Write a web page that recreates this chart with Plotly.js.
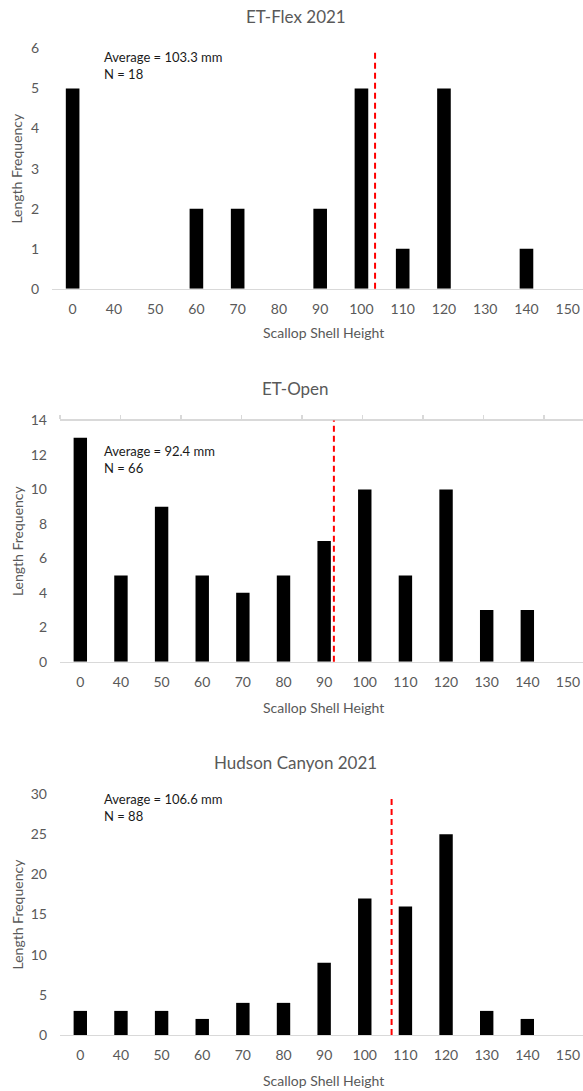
<!DOCTYPE html>
<html>
<head>
<meta charset="utf-8">
<script src="https://cdn.plot.ly/plotly-3.0.1.min.js"></script>
<style>
  html, body { margin: 0; padding: 0; background: #ffffff; }
  #chart { width: 583px; height: 1091px; }
</style>
</head>
<body>
<div id="chart"></div>
<script>
// Shell-height size classes (mm)
const sizeClasses = ["0", "40", "50", "60", "70", "80", "90", "100", "110", "120", "130", "140", "150"];

// Length-frequency counts per survey area
const etFlexCounts  = [5, 0, 0, 2, 2, 0, 2, 5, 1, 5, 0, 1, 0];
const etOpenCounts  = [13, 5, 9, 5, 4, 5, 7, 10, 5, 10, 3, 3, 0];
const hudsonCounts  = [3, 3, 3, 2, 4, 4, 9, 17, 16, 25, 3, 2, 0];

// Panel titles, mean shell heights and sample sizes
const panelTitles = ["ET-Flex 2021", "ET-Open", "Hudson Canyon 2021"];
const panelMeans  = [103.3, 92.4, 106.6];
const panelN      = [18, 66, 88];

const W = 583, H = 1091;
const FONT = "Lato, 'Open Sans', sans-serif";
const GREY = "#595959";
const AXIS_LINE = "#d9d9d9";

// Place a mean on the category axis by interpolating between class positions
function meanToIndex(mean) {
  const vals = sizeClasses.map(Number);
  for (let i = 0; i < vals.length - 1; i++) {
    if (mean >= vals[i] && mean < vals[i + 1]) {
      return i + (mean - vals[i]) / (vals[i + 1] - vals[i]);
    }
  }
  return vals.length - 1;
}

// Pixel geometry of each panel (left edge, zero line, axis top, text rows)
const panels = [
  { left: 52, bottom: 288.7, top: 48.5,  ymax: 6,  dtick: 1, xr: [-0.5, 12.37],
    titleY: 16, noteY: 56, xTitleY: 333, lineTop: 0.994 },
  { left: 60, bottom: 661.7, top: 420.5, ymax: 14, dtick: 2, xr: [-0.5, 12.37],
    titleY: 388, noteY: 450, xTitleY: 707, lineTop: 1.0 },
  { left: 60, bottom: 1035,  top: 794,   ymax: 30, dtick: 5, xr: [-0.5, 12.37],
    titleY: 762, noteY: 798, xTitleY: 1080, lineTop: 0.988 }
];
const seriesList = [etFlexCounts, etOpenCounts, hudsonCounts];

const traces = [];
const layout = {
  width: W, height: H,
  margin: { l: 0, r: 0, t: 0, b: 0 },
  paper_bgcolor: "#ffffff",
  plot_bgcolor: "rgba(0,0,0,0)",
  showlegend: false,
  font: { family: FONT, color: GREY, size: 14 },
  annotations: [],
  shapes: []
};

panels.forEach((p, k) => {
  const n = k + 1;
  const xa = n === 1 ? "x" : "x" + n;
  const ya = n === 1 ? "y" : "y" + n;
  const xKey = n === 1 ? "xaxis" : "xaxis" + n;
  const yKey = n === 1 ? "yaxis" : "yaxis" + n;

  traces.push({
    type: "bar",
    x: sizeClasses,
    y: seriesList[k],
    xaxis: xa, yaxis: ya,
    marker: { color: "#000000", line: { width: 0 } },
    width: 0.33,
    hoverinfo: "x+y"
  });

  layout[xKey] = {
    type: "category",
    domain: [p.left / W, 1],
    anchor: ya,
    range: p.xr,
    showgrid: false,
    zeroline: false,
    showline: true,
    linecolor: AXIS_LINE,
    linewidth: 1.3,
    ticks: "",
    ticklabelstandoff: 7,
    tickfont: { family: FONT, color: GREY, size: 14 },
    fixedrange: true
  };
  layout[yKey] = {
    domain: [1 - p.bottom / H, 1 - p.top / H],
    anchor: xa,
    range: [0, p.ymax],
    dtick: p.dtick,
    tick0: 0,
    showgrid: false,
    zeroline: false,
    showline: false,
    ticks: "",
    ticklabelstandoff: 12,
    tickfont: { family: FONT, color: GREY, size: 14 },
    fixedrange: true
  };

  // Panel title
  layout.annotations.push({
    xref: "paper", yref: "paper",
    x: 295.5 / W, y: 1 - p.titleY / H,
    xanchor: "center", yanchor: "middle",
    text: panelTitles[k], showarrow: false,
    font: { family: FONT, size: 17, color: GREY }
  });
  // Y axis title
  layout.annotations.push({
    xref: "paper", yref: "paper",
    x: 17 / W, y: 1 - ((p.top + p.bottom) / 2) / H,
    xanchor: "center", yanchor: "middle", textangle: -90,
    text: "Length Frequency", showarrow: false,
    font: { family: FONT, size: 14, color: GREY }
  });
  // X axis title
  layout.annotations.push({
    xref: "paper", yref: "paper",
    x: 323.5 / W, y: 1 - p.xTitleY / H,
    xanchor: "center", yanchor: "middle",
    text: "Scallop Shell Height", showarrow: false,
    font: { family: FONT, size: 14, color: GREY }
  });
  // Mean and sample size
  layout.annotations.push({
    xref: "paper", yref: "paper",
    x: 102 / W, y: 1 - (p.noteY - 9) / H,
    xanchor: "left", yanchor: "top", align: "left",
    text: "Average = " + panelMeans[k].toFixed(1) + " mm<br>N = " + panelN[k],
    showarrow: false,
    font: { family: FONT, size: 13, color: "#1a1a1a" }
  });
  // Dashed mean line
  const mx = meanToIndex(panelMeans[k]);
  layout.shapes.push({
    type: "line", xref: xa, yref: ya + " domain",
    x0: mx, x1: mx, y0: 0, y1: p.lineTop,
    line: { color: "#ff0000", width: 2, dash: "6px,4px" }
  });
});

// Secondary top axis on the middle panel
layout.xaxis4 = {
  overlaying: "x2",
  side: "top",
  anchor: "y2",
  range: [0, 523 / 60.5],
  dtick: 1,
  showgrid: false,
  zeroline: false,
  showline: true,
  linecolor: AXIS_LINE,
  linewidth: 1.3,
  ticks: "outside",
  ticklen: 4,
  tickwidth: 1.3,
  tickcolor: AXIS_LINE,
  showticklabels: false,
  fixedrange: true
};
traces.push({
  type: "scatter", mode: "none",
  x: [0], y: [0], xaxis: "x4", yaxis: "y2",
  hoverinfo: "skip", showlegend: false
});

Plotly.newPlot("chart", traces, layout, { displayModeBar: false, staticPlot: true });
</script>
</body>
</html>
